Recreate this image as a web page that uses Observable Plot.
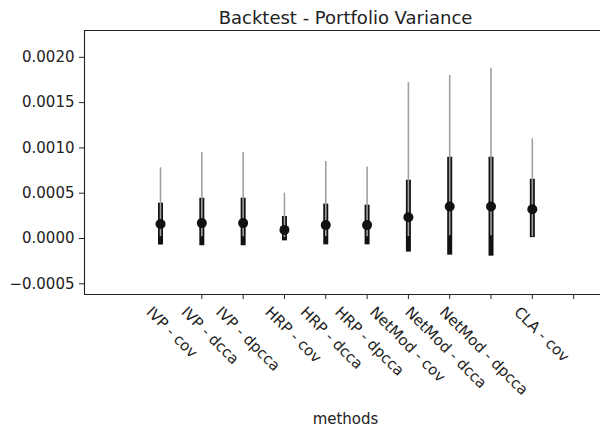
<!DOCTYPE html>
<html>
<head>
<meta charset="utf-8">
<script src="https://cdn.jsdelivr.net/npm/d3@7"></script>
<script src="https://cdn.jsdelivr.net/npm/@observablehq/plot@0.6"></script>
<style>
  html, body { margin: 0; padding: 0; background: #fff; }
  svg { display: block; }
</style>
</head>
<body>
<script>
// ---- data ----
const methods = ["IVP - cov", "IVP - dcca", "IVP - dpcca", "HRP - cov", "HRP - dcca",
                 "HRP - dpcca", "NetMod - cov", "NetMod - dcca", "NetMod - dpcca", "CLA - cov"];
const means   = [0.000160, 0.000170, 0.000170, 0.000095, 0.000148, 0.000148, 0.000235, 0.000353, 0.000353, 0.000322];
const sdLow   = [-0.000072, -0.000080, -0.000080, -0.000026, -0.000070, -0.000070, -0.000150, -0.000184, -0.000195, 0.000010];
const sdHigh  = [0.000390, 0.000445, 0.000445, 0.000243, 0.000380, 0.000368, 0.000643, 0.000897, 0.000897, 0.000654];
const minVals = [0.000020, 0.000020, 0.000020, 0.000010, 0.000020, 0.000020, 0.000020, 0.000030, 0.000030, 0.000020];
const maxVals = [0.000780, 0.000950, 0.000950, 0.000500, 0.000850, 0.000790, 0.001720, 0.001800, 0.001880, 0.001100];
const yTicks  = [-0.0005, 0.0000, 0.0005, 0.0010, 0.0015, 0.0020];
const xTickPos = [1, 2, 3, 4, 5, 6, 7, 8, 9, 10];
const titleText = "Backtest - Portfolio Variance";
const xLabel = "methods";

const xDomain = [-1.84, 10.65];
const yDomain = [-0.000618, 0.002296];

const data = methods.map((m, i) => ({
  i, method: m, mean: means[i], lo: sdLow[i], hi: sdHigh[i], min: minVals[i], max: maxVals[i]
}));

const ink = "#222";

const chart = Plot.plot({
  width: 600,
  height: 428,
  marginLeft: 84,
  marginRight: 0,
  marginTop: 30,
  marginBottom: 134,
  style: { fontFamily: "DejaVu Sans", fontSize: "15px", color: ink, background: "white" },
  x: { domain: xDomain, axis: null, label: null },
  y: { domain: yDomain, axis: null, label: null },
  marks: [
    Plot.ruleY([yDomain[1]], { stroke: ink, strokeWidth: 1.1 }),
    Plot.ruleY([yDomain[0]], { stroke: ink, strokeWidth: 1.1 }),
    Plot.ruleX([xDomain[0]], { stroke: ink, strokeWidth: 1.1 }),
    Plot.axisY({ ticks: yTicks, tickFormat: d3.format(".4f"), tickSize: 5, tickPadding: 5,
                 fontSize: 15, label: null, stroke: ink }),
    Plot.axisX({ ticks: xTickPos, tickFormat: (v) => methods[v - 1], tickSize: 5,
                 tickRotate: 45, textAnchor: "start", fontSize: 15, label: null, stroke: ink }),
    Plot.ruleX(data, { x: "i", y1: "lo", y2: "hi", stroke: "#111", strokeWidth: 5 }),
    Plot.ruleX(data, { x: "i", y1: "min", y2: "max", stroke: "#a0a0a0", strokeWidth: 1.6 }),
    Plot.dot(data, { x: "i", y: "mean", r: 5, fill: "#111", stroke: "none" }),
    Plot.text([titleText], { frameAnchor: "top", lineAnchor: "middle", dx: 3, dy: -12.3, fontSize: 18, fill: ink }),
    Plot.text([xLabel], { frameAnchor: "bottom", lineAnchor: "middle", dx: 3, dy: 124.2, fontSize: 15, fill: ink })
  ]
});

document.body.appendChild(chart);

// Align rotated tick labels like matplotlib (bbox right edge at tick, top just below ticks)
const xs = chart.scale("x");
const sRect = chart.getBoundingClientRect();
chart.querySelectorAll('g[aria-label="x-axis tick label"] text').forEach((t, k) => {
  const r = t.getBoundingClientRect();
  const right = r.right - sRect.left;
  const top = r.top - sRect.top;
  const tx = xs.apply(xTickPos[k]);
  const dx = tx - right;
  const dy = 303 - top;
  const tr = t.getAttribute("transform") || "";
  t.setAttribute("transform", `translate(${dx},${dy}) ` + tr);
});
</script>
</body>
</html>
